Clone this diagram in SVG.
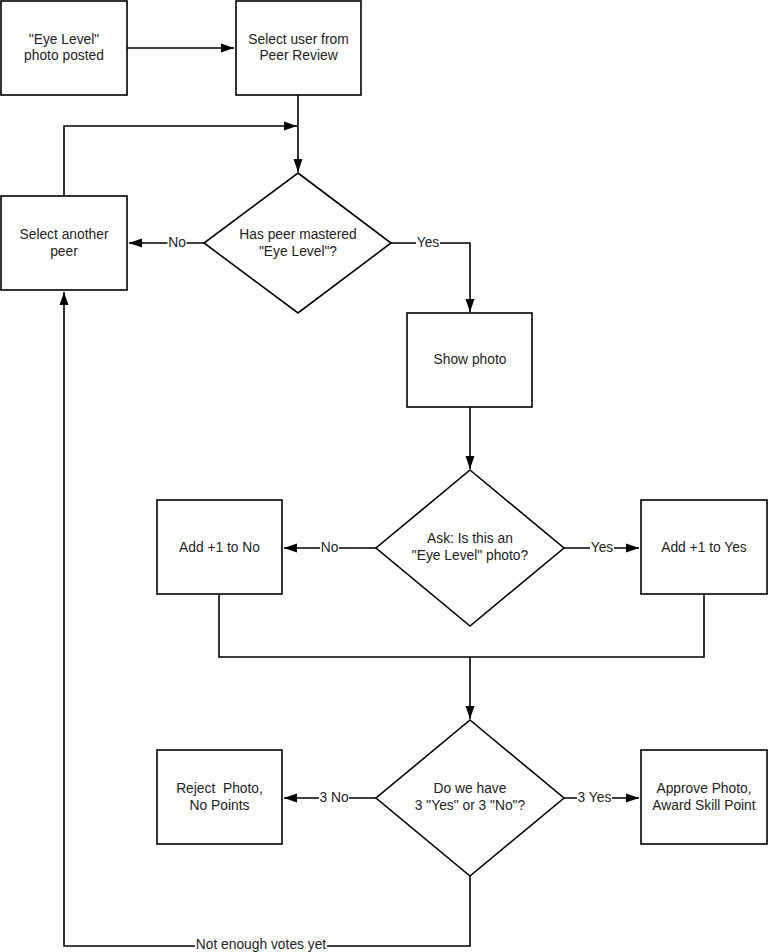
<svg xmlns="http://www.w3.org/2000/svg" width="768" height="952" viewBox="0 0 768 952">
<style>
.box{fill:#fff;stroke:#000;stroke-width:1.6}
.t{font-family:"Liberation Sans",Arial,sans-serif;font-size:13.8px;fill:#222;text-anchor:middle}
.c{fill:none;stroke:#000;stroke-width:1.6}
.lb{fill:#fff}
</style>
<defs>
<marker id="ah" markerUnits="userSpaceOnUse" markerWidth="13" markerHeight="10" refX="13" refY="5" orient="auto">
<path d="M0,0.5 L13,5 L0,9.5 z" fill="#000"/>
</marker>
</defs>
<rect width="768" height="952" fill="#fff"/>
<g id="connectors">
<path class="c" d="M127,48 H234" marker-end="url(#ah)"/>
<path class="c" d="M298,95 V172" marker-end="url(#ah)"/>
<path class="c" d="M64,196 V126 H297" marker-end="url(#ah)"/>
<path class="c" d="M204,243 H129" marker-end="url(#ah)"/>
<path class="c" d="M391,243 H470 V312" marker-end="url(#ah)"/>
<path class="c" d="M470,407 V469" marker-end="url(#ah)"/>
<path class="c" d="M376,548 H284" marker-end="url(#ah)"/>
<path class="c" d="M564,548 H639" marker-end="url(#ah)"/>
<path class="c" d="M219,595 V657 H704 V595"/>
<path class="c" d="M470,657 V719" marker-end="url(#ah)"/>
<path class="c" d="M376,798 H284" marker-end="url(#ah)"/>
<path class="c" d="M564,798 H639" marker-end="url(#ah)"/>
<path class="c" d="M470,876 V946 H64 V292" marker-end="url(#ah)"/>
<rect class="lb" x="167.5" y="235" width="19" height="15"/>
<text class="t" x="177" y="247">No</text>
<rect class="lb" x="416" y="235" width="24" height="15"/>
<text class="t" x="428" y="247">Yes</text>
<rect class="lb" x="320" y="540" width="19" height="15"/>
<text class="t" x="329.5" y="552">No</text>
<rect class="lb" x="590" y="540" width="24" height="15"/>
<text class="t" x="602" y="552">Yes</text>
<rect class="lb" x="319" y="790" width="30" height="15"/>
<text class="t" x="334" y="802">3 No</text>
<rect class="lb" x="577" y="790" width="35" height="15"/>
<text class="t" x="594.5" y="802">3 Yes</text>
<rect class="lb" x="195" y="938" width="132" height="15"/>
<text class="t" x="261" y="949">Not enough votes yet</text>
</g>
<g id="n1"><rect class="box" x="1" y="1" width="126" height="94"/>
<text class="t" x="64" y="44">"Eye Level"</text><text class="t" x="64" y="60">photo posted</text></g>
<g id="n2"><rect class="box" x="236" y="1" width="125" height="94"/>
<text class="t" x="298.5" y="44">Select user from</text><text class="t" x="298.5" y="60">Peer Review</text></g>
<g id="n3"><rect class="box" x="1" y="196" width="126" height="94"/>
<text class="t" x="64" y="239">Select another</text><text class="t" x="64" y="256">peer</text></g>
<g id="d1"><polygon class="box" points="298,173 391,243 298,313 204,243"/>
<text class="t" x="298" y="239">Has peer mastered</text><text class="t" x="298" y="256">"Eye Level"?</text></g>
<g id="n4"><rect class="box" x="407" y="313" width="125" height="94"/>
<text class="t" x="470" y="364">Show photo</text></g>
<g id="d2"><polygon class="box" points="470,470 564,548 470,626 376,548"/>
<text class="t" x="470" y="543">Ask: Is this an</text><text class="t" x="470" y="560">"Eye Level" photo?</text></g>
<g id="n5"><rect class="box" x="157" y="500" width="125" height="94"/>
<text class="t" x="219.5" y="552">Add +1 to No</text></g>
<g id="n6"><rect class="box" x="641" y="500" width="126" height="94"/>
<text class="t" x="704" y="552">Add +1 to Yes</text></g>
<g id="d3"><polygon class="box" points="470,720 564,798 470,876 376,798"/>
<text class="t" x="470" y="793">Do we have</text><text class="t" x="470" y="810">3 "Yes" or 3 "No"?</text></g>
<g id="n7"><rect class="box" x="157" y="750" width="125" height="94"/>
<text class="t" x="219.5" y="793" xml:space="preserve">Reject  Photo,</text><text class="t" x="219.5" y="810">No Points</text></g>
<g id="n8"><rect class="box" x="641" y="750" width="126" height="94"/>
<text class="t" x="704" y="793">Approve Photo,</text><text class="t" x="704" y="810">Award Skill Point</text></g>
</svg>
